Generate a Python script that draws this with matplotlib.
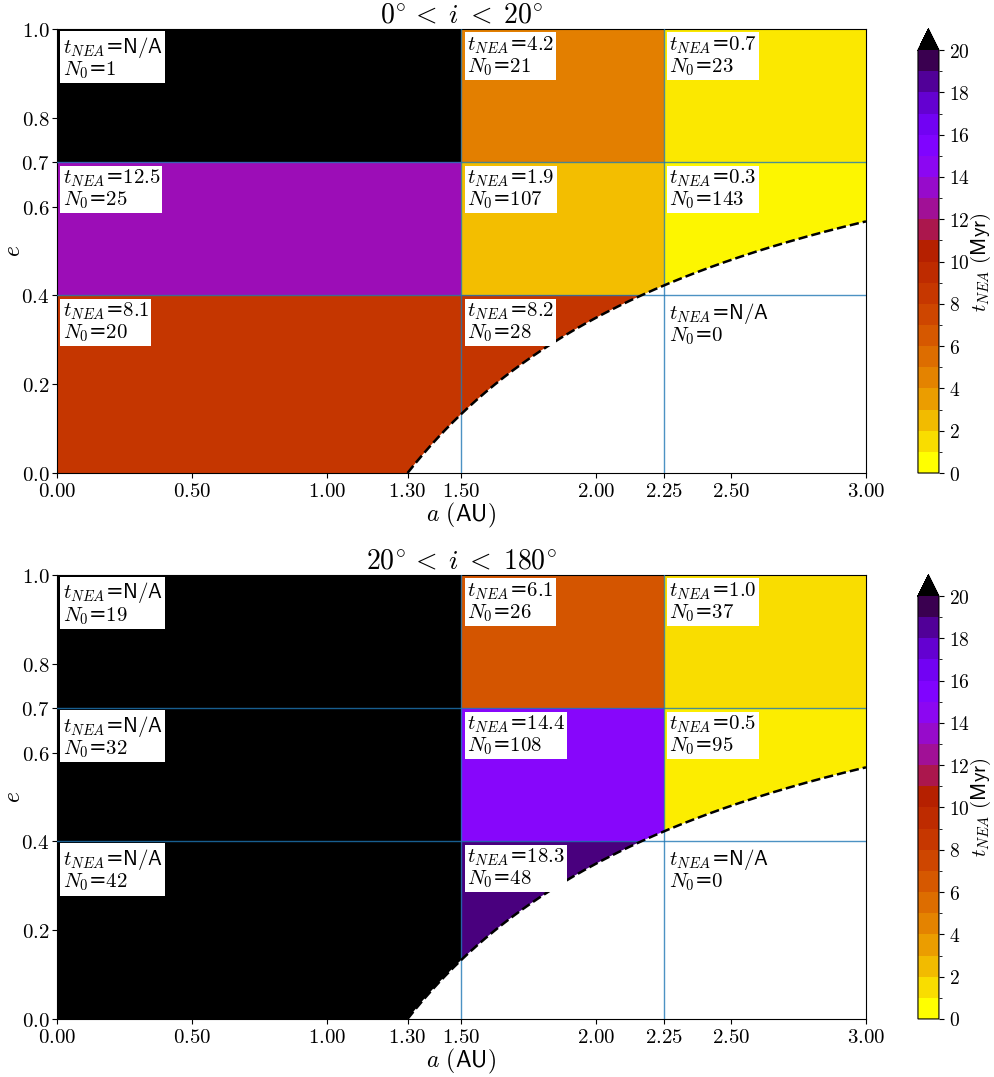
import numpy as np
import matplotlib
matplotlib.use('Agg')
import matplotlib.pyplot as plt
from matplotlib.colors import BoundaryNorm, Normalize
from matplotlib.cm import ScalarMappable

plt.rcParams['mathtext.fontset'] = 'cm'
plt.rcParams['font.family'] = ['DejaVu Sans']

# bin edges
a_edges = [0.0, 1.5, 2.25, 3.0]
e_edges = [0.0, 0.4, 0.7, 1.0]
q_lim = 1.3

# t_NEA (Myr), rows = e bins from bottom, cols = a bins; None = N/A
t_low = [[8.1, 8.2, None],
         [12.5, 1.9, 0.3],
         [None, 4.2, 0.7]]
n_low = [[20, 28, 0],
         [25, 107, 143],
         [1, 21, 23]]

t_high = [[None, 18.3, None],
          [None, 14.4, 0.5],
          [None, 6.1, 1.0]]
n_high = [[42, 48, 0],
          [32, 108, 95],
          [19, 26, 37]]

titles = [r'$0^{\circ}\,<\;i\;<\;20^{\circ}$', r'$20^{\circ}\,<\;i\;<\;180^{\circ}$']
x_ticks = [0.0, 0.5, 1.0, 1.3, 1.5, 2.0, 2.25, 2.5, 3.0]
y_ticks = [0.0, 0.2, 0.4, 0.6, 0.7, 0.8, 1.0]
levels = np.arange(0, 21, 1)

cmap = plt.get_cmap('gnuplot_r').copy()
cmap.set_over('black')
cmap.set_bad('white')
cell_norm = Normalize(0, 20)
bar_norm = BoundaryNorm(levels, cmap.N, extend='max')

fig = plt.figure(figsize=(9.94, 10.77), dpi=100)
ax_pos = [[0.0573, 0.5608, 0.8139, 0.4123], [0.0573, 0.0539, 0.8139, 0.4123]]
cb_pos = [[0.9235, 0.5608, 0.0211, 0.4123], [0.9235, 0.0539, 0.0211, 0.4123]]

for k, (t_vals, n_vals) in enumerate([(t_low, n_low), (t_high, n_high)]):
    ax = fig.add_axes(ax_pos[k])
    grid = np.array([[np.nan if (t is None and n == 0) else (100.0 if t is None else t)
                      for t, n in zip(trow, nrow)] for trow, nrow in zip(t_vals, n_vals)])
    grid = np.ma.masked_invalid(grid)
    ax.pcolormesh(a_edges, e_edges, grid, cmap=cmap, norm=cell_norm)

    # region with perihelion q > 1.3 AU is not NEA
    aa = np.linspace(q_lim, 3.0, 300)
    ee = 1 - q_lim / aa
    ax.fill_between(aa, 0, ee, color='white', zorder=2)

    for xv in a_edges[1:-1]:
        ax.axvline(xv, color='tab:blue', lw=1, alpha=0.8, zorder=3)
    for yv in e_edges[1:-1]:
        ax.axhline(yv, color='tab:blue', lw=1, alpha=0.8, zorder=3)
    ax.plot(aa, ee, 'k--', lw=1.8, zorder=4)

    for i in range(3):
        for j in range(3):
            t = t_vals[i][j]
            ts = 'N/A' if t is None else '%.1f' % t
            label = (r'$t_{NEA}$=' + r'$\mathsf{' + ts + '}$' + '\n'
                     + r'$N_0$=' + r'$\mathsf{' + str(n_vals[i][j]) + '}$')
            ax.annotate(label, xy=(a_edges[j], e_edges[i + 1]), xytext=(4, -4),
                        textcoords='offset points', ha='left', va='top',
                        fontsize=15, linespacing=1.0, zorder=5,
                        bbox=dict(facecolor='white', edgecolor='none', pad=1.5))

    ax.set_xlim(0, 3)
    ax.set_ylim(0, 1)
    ax.set_xticks(x_ticks)
    ax.set_xticklabels([r'$%.2f$' % v for v in x_ticks], fontsize=15)
    ax.set_yticks(y_ticks)
    ax.set_yticklabels([r'$%.1f$' % v for v in y_ticks], fontsize=15)
    ax.tick_params(pad=2)
    ax.set_xlabel(r'$a$ $\mathsf{(AU)}$', fontsize=17, labelpad=0)
    ax.set_ylabel(r'$e$', fontsize=17)
    ax.yaxis.set_label_coords(-0.040, 0.5)
    ax.set_title(titles[k], fontsize=20, pad=2)

    cax = fig.add_axes(cb_pos[k])
    sm = ScalarMappable(norm=bar_norm, cmap=cmap)
    cb = fig.colorbar(sm, cax=cax, extend='max', ticks=np.arange(0, 21, 2))
    cb.ax.set_yticklabels([r'$%d$' % v for v in np.arange(0, 21, 2)], fontsize=14)
    cb.set_label(r'$t_{NEA}$ $\mathsf{(Myr)}$', fontsize=15)
    cb.ax.yaxis.set_label_coords(2.45, 0.5)

fig.savefig('out.png', dpi=100)
